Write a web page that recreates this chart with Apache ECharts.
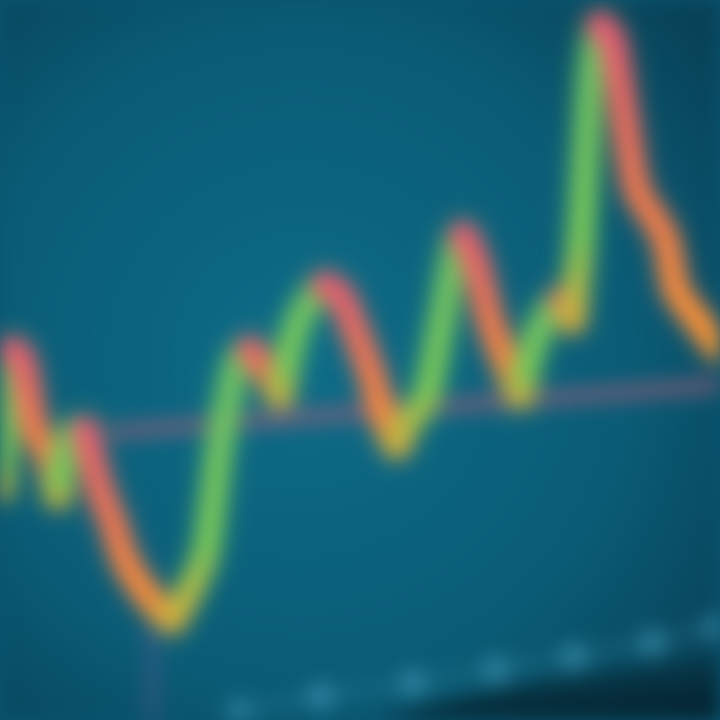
<!DOCTYPE html>
<html>
<head>
<meta charset="utf-8">
<script src="https://cdn.jsdelivr.net/npm/echarts@6/dist/echarts.min.js"></script>
<style>
html,body{margin:0;padding:0;background:#0a5570;overflow:hidden;}
#chart{position:absolute;left:0;top:0;width:720px;height:720px;filter:blur(10px);}
</style>
</head>
<body>
<div id="chart"></div>
<script>
// Main price path (x position in time units, y = price level; 720 at top)
var times  = [0, 12, 22, 35, 48, 58, 70, 85, 100, 112, 125, 140, 160, 172, 190, 205, 213, 220, 228, 238, 250, 262, 280, 295, 310, 325, 340, 355, 370, 385, 397, 410, 425, 440, 455, 463, 475, 490, 505, 520, 535, 550, 562, 572, 580, 586, 592, 600, 612, 625, 637, 652, 666, 676, 690, 705, 720];
var prices = [230, 370, 360, 290, 265, 225, 285, 290, 230, 200, 160, 135, 110, 100, 130, 165, 220, 275, 320, 360, 370, 355, 325, 390, 420, 435, 425, 390, 350, 300, 275, 300, 320, 390, 470, 485, 460, 400, 360, 325, 380, 410, 420, 400, 470, 570, 660, 695, 680, 600, 530, 505, 480, 430, 410, 390, 370];
// Support line
var supportTimes  = [110, 720];
var supportPrices = [288, 335];
// Faint lower trail
var trailTimes  = [239, 321, 413, 496, 574, 652, 716];
var trailPrices = [7, 23, 37, 50, 63, 77, 93];
// Dark floor
var floorTimes  = [380, 500, 620, 720];
var floorPrices = [0, 30, 50, 62];
// Drop streak below low
var streakTimes  = [152, 152];
var streakPrices = [0, 95];

function pairs(xs, ys){ return xs.map(function(x,i){return [x, ys[i]];}); }

var chart = echarts.init(document.getElementById('chart'));
var series = [];

series.push({
  type:'line', data: pairs(floorTimes, floorPrices), symbol:'none', smooth:true,
  lineStyle:{width:0}, z:1,
  areaStyle:{color:new echarts.graphic.LinearGradient(0,0,0,1,[{offset:0,color:'rgba(5,30,40,0.5)'},{offset:1,color:'rgba(3,15,20,0.95)'}]), origin:'start'}
});
series.push({
  type:'line', data: pairs(trailTimes, trailPrices), symbol:'circle', symbolSize:28, smooth:true,
  lineStyle:{width:8,color:'rgba(70,160,190,0.3)'}, itemStyle:{color:'rgba(80,170,200,0.45)'}, z:2
});
series.push({
  type:'line', data: pairs(streakTimes, streakPrices), symbol:'none',
  lineStyle:{width:14,color:'rgba(130,90,160,0.3)'}, z:2
});
series.push({
  type:'line', data: pairs(supportTimes, supportPrices), symbol:'none',
  lineStyle:{width:16,color:'rgba(165,95,125,0.6)'}, z:3
});

// split main path into up / down runs
var runs = [];
var cur = null;
for (var i=1;i<times.length;i++){
  var up = prices[i] > prices[i-1];
  if (!cur || cur.up !== up){
    cur = {up:up, pts:[[times[i-1],prices[i-1]]]};
    runs.push(cur);
  }
  cur.pts.push([times[i],prices[i]]);
}
runs.forEach(function(r){
  var grad = r.up
    ? new echarts.graphic.LinearGradient(0,0,0,1,[{offset:0,color:'#68bf68'},{offset:0.7,color:'#78c858'},{offset:1,color:'#e0aa38'}])
    : new echarts.graphic.LinearGradient(0,0,0,1,[{offset:0,color:'#e25a76'},{offset:0.55,color:'#f07a4c'},{offset:1,color:'#fb9a30'}]);
  series.push({
    type:'line', data:r.pts, symbol:'none', smooth:0.3,
    lineStyle:{width:26, color:grad, cap:'round', join:'round', shadowBlur:18, shadowColor:r.up?'rgba(110,200,90,0.5)':'rgba(240,110,80,0.5)'},
    z:5
  });
});

chart.setOption({
  animation:false,
  backgroundColor: new echarts.graphic.RadialGradient(0.42,0.5,0.75,[
    {offset:0,color:'#0c6c88'},{offset:0.6,color:'#0a5c76'},{offset:1,color:'#073f54'}]),
  grid:{left:0,right:0,top:0,bottom:0},
  xAxis:{type:'value',min:0,max:720,show:false},
  yAxis:{type:'value',min:0,max:720,show:false},
  series:series
});
</script>
</body>
</html>
